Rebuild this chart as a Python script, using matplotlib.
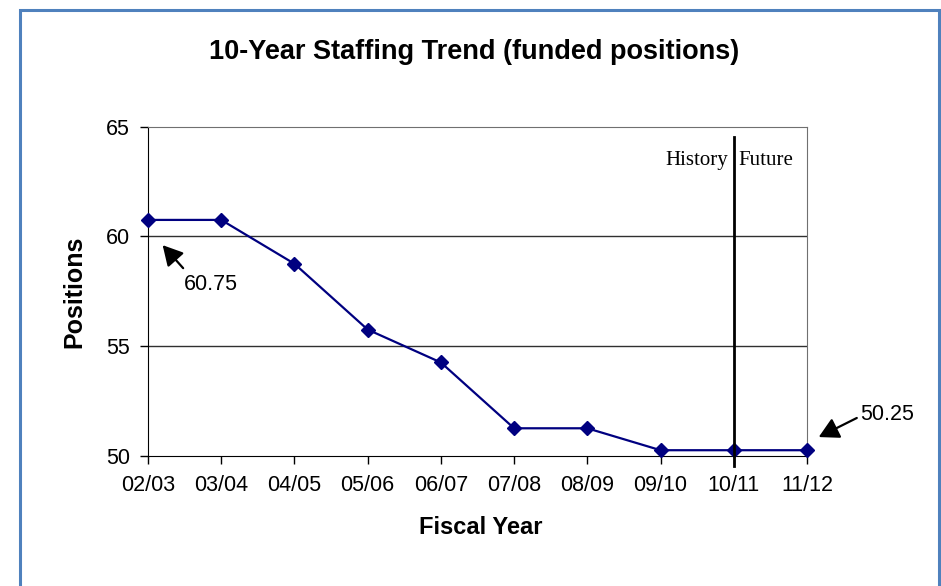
import matplotlib
matplotlib.use("Agg")
import matplotlib.pyplot as plt
from matplotlib.patches import Rectangle

# fiscal years and funded positions
years = ["02/03", "03/04", "04/05", "05/06", "06/07",
         "07/08", "08/09", "09/10", "10/11", "11/12"]
positions = [60.75, 60.75, 58.75, 55.75, 54.25,
             51.25, 51.25, 50.25, 50.25, 50.25]
y_ticks = [50, 55, 60, 65]

plt.rcParams['font.family'] = ['Liberation Sans', 'DejaVu Sans']

W, H = 941, 586
fig = plt.figure(figsize=(W / 100, H / 100), dpi=100)

# blue frame round the whole picture
fig.patches.append(Rectangle((20 / W, -0.05), (939 - 20) / W, 1.05 - 10 / H,
                             transform=fig.transFigure, fill=False,
                             edgecolor="#4F81BD", linewidth=2.2))

ax = fig.add_axes([148 / W, 1 - 455.7 / H, (807 - 148) / W, (455.7 - 126.7) / H])

x = list(range(len(years)))
ax.plot(x, positions, color="#000080", linewidth=1.6, marker="D",
        markersize=7, clip_on=False, zorder=5)

ax.set_xlim(0, len(years) - 1)
ax.set_ylim(50, 65)
ax.set_xticks(x)
ax.set_xticklabels(years)
ax.set_yticks(y_ticks)
ax.tick_params(axis="both", direction="out", length=6, width=1, labelsize=15.5, colors="black")
ax.tick_params(axis="x", pad=8)
ax.tick_params(axis="y", pad=7)

for v in y_ticks[1:3]:
    ax.axhline(v, color="#303030", linewidth=1, zorder=1)
for side in ["top", "right"]:
    ax.spines[side].set_color("#707070")
for side in ["left", "bottom"]:
    ax.spines[side].set_color("black")

# history / future divider
ax.plot([8, 8], [49.55, 64.55], color="black", linewidth=2, clip_on=False, zorder=6)
ax.text(7.92, 63.25, "History", ha="right", va="baseline", fontsize=15,
        family="Liberation Serif")
ax.text(8.06, 63.25, "Future", ha="left", va="baseline", fontsize=15,
        family="Liberation Serif")

# value callouts
arrow = dict(arrowstyle="-|>,head_length=0.55,head_width=0.3", color="black",
             lw=1.6, mutation_scale=22, shrinkA=0, shrinkB=0)
ax.annotate("", xy=(0.2, 59.6), xytext=(0.48, 58.55), arrowprops=arrow)
ax.text(0.86, 57.8, "60.75", ha="center", va="center", fontsize=15.5)
ax.annotate("", xy=(9.16, 50.85), xytext=(9.68, 51.72), annotation_clip=False,
            arrowprops=arrow)
ax.text(10.09, 51.9, "50.25", ha="center", va="center", fontsize=15.5, clip_on=False)

fig.text(474 / W, 1 - 52 / H, "10-Year Staffing Trend (funded positions)",
         ha="center", va="center", fontsize=19.5, fontweight="bold")
fig.text(74 / W, 1 - 292 / H, "Positions", rotation=90, ha="center", va="center",
         fontsize=18, fontweight="bold")
fig.text(481 / W, 1 - 528 / H, "Fiscal Year", ha="center", va="center",
         fontsize=17, fontweight="bold")

fig.savefig("out.png", dpi=100)
